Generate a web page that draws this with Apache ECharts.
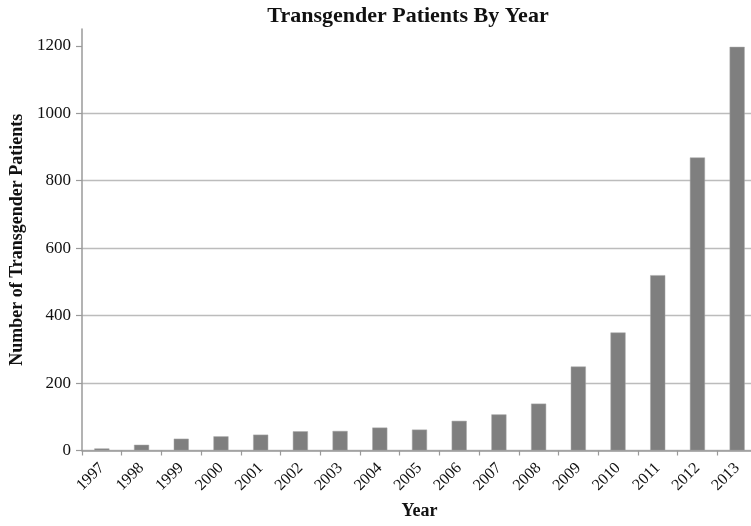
<!DOCTYPE html>
<html>
<head>
<meta charset="utf-8">
<script src="https://cdn.jsdelivr.net/npm/echarts@6/dist/echarts.min.js"></script>
<style>
html,body{margin:0;padding:0;background:#fff;}
#chart{width:751px;height:526px;}
</style>
</head>
<body>
<div id="chart"></div>
<script>
const years = ['1997','1998','1999','2000','2001','2002','2003','2004','2005','2006','2007','2008','2009','2010','2011','2012','2013'];
const patients = [6, 17, 35, 42, 47, 57, 58, 68, 62, 88, 107, 139, 249, 350, 520, 869, 1197];
const yTicks = [0, 200, 400, 600, 800, 1000, 1200];
const titleText = 'Transgender Patients By Year';
const xName = 'Year';
const yName = 'Number of Transgender Patients';

const FONT = 'Liberation Serif';
const chart = echarts.init(document.getElementById('chart'), null, {renderer: 'canvas'});
chart.setOption({
  animation: false,
  backgroundColor: '#ffffff',
  title: {
    text: titleText,
    left: 403,
    top: 0,
    textAlign: 'center',
    textStyle: {fontFamily: FONT, fontWeight: 'bold', fontSize: 22, color: '#111'}
  },
  grid: {left: 82, right: -6, top: 29, bottom: 75.5, containLabel: false, outerBoundsMode: 'none'},
  xAxis: {
    type: 'category',
    data: years,
    name: xName,
    nameLocation: 'middle',
    nameGap: 52,
    nameTextStyle: {fontFamily: FONT, fontWeight: 'bold', fontSize: 18, color: '#111'},
    axisLine: {lineStyle: {color: '#9a9a9a', width: 1.5}},
    axisTick: {show: true, length: 5, lineStyle: {color: '#9a9a9a', width: 1.2}},
    axisLabel: {rotate: 45, interval: 0, margin: 15, fontFamily: FONT, fontSize: 16, color: '#111'},
    splitLine: {show: false}
  },
  yAxis: {
    type: 'value',
    min: 0,
    max: 1250,
    name: yName,
    nameLocation: 'middle',
    nameGap: 55,
    nameTextStyle: {fontFamily: FONT, fontWeight: 'bold', fontSize: 18, color: '#111'},
    axisLine: {show: true, lineStyle: {color: '#9a9a9a', width: 1.5}},
    axisTick: {show: true, length: 6, customValues: yTicks, lineStyle: {color: '#9a9a9a', width: 1.2}},
    axisLabel: {customValues: yTicks, margin: 11, fontFamily: FONT, fontSize: 17, color: '#111',
      formatter: function (v) { return String(v); }},
    splitLine: {show: true, showMaxLine: false, lineStyle: {color: '#bcbcbc', width: 1.3}}
  },
  series: [{
    type: 'bar',
    data: patients,
    barWidth: '38%',
    itemStyle: {color: '#7f7f7f', borderColor: '#a8a8a8', borderWidth: 0.5}
  }]
});
</script>
</body>
</html>
